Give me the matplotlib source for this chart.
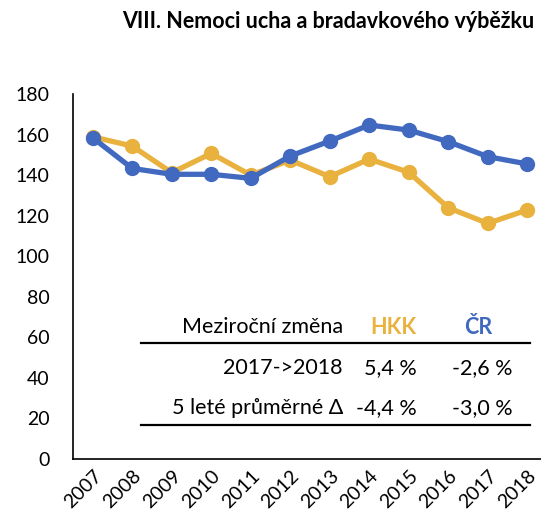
import numpy as np
import matplotlib
matplotlib.use('Agg')
import matplotlib.pyplot as plt

plt.rcParams['font.family'] = ['Lato', 'DejaVu Sans']

# Data
years = ['2007', '2008', '2009', '2010', '2011', '2012',
         '2013', '2014', '2015', '2016', '2017', '2018']
hkk = [158.9, 154.3, 141.2, 150.7, 140.0, 147.4, 139.2, 147.9, 141.4, 123.9, 116.2, 122.8]
cr = [158.4, 143.3, 140.4, 140.4, 138.4, 149.4, 156.8, 164.7, 162.2, 156.5, 149.1, 145.5]

title = 'VIII. Nemoci ucha a bradavkového výběžku'
table_header = ['Meziroční změna', 'HKK', 'ČR']
row_labels = ['2017->2018', '5 leté průměrné Δ']
hkk_change = ['5,4 %', '-4,4 %']
cr_change = ['-2,6 %', '-3,0 %']

yellow = '#E9B13E'
blue = '#4169C0'

W, H = 541, 525
fig = plt.figure(figsize=(W / 100, H / 100), dpi=100)


def px(x, y):
    # pixel position (from top-left) -> figure fraction
    return x / W, 1 - y / H


ax = fig.add_axes([73 / W, 1 - 459 / H, (547 - 73) / W, (459 - 94) / H])
x = np.arange(len(years))
ax.plot(x, hkk, color=yellow, lw=3.8, marker='o', ms=10, zorder=2)
ax.plot(x, cr, color=blue, lw=3.8, marker='o', ms=10, zorder=3)

ax.set_xlim(-0.5, len(years) - 0.5)
ax.set_ylim(0, 180)
ax.set_yticks(range(0, 181, 20))
ax.set_xticks(x)
ax.set_xticklabels(years, rotation=45, ha='right', rotation_mode='anchor')
ax.tick_params(axis='both', length=0, labelsize=14)
ax.tick_params(axis='y', pad=17)
ax.tick_params(axis='x', pad=6)
for s in ['top', 'right']:
    ax.spines[s].set_visible(False)
for s in ['left', 'bottom']:
    ax.spines[s].set_linewidth(1.2)

fig.text(*px(328, 22), title, ha='center', va='center', fontsize=15.5, fontweight='bold')

# table
fs = 15.5
fig.text(*px(343, 327), table_header[0], ha='right', va='center', fontsize=fs)
fig.text(*px(393, 327), table_header[1], ha='center', va='center', fontsize=fs,
         fontweight='bold', color=yellow)
fig.text(*px(478, 327), table_header[2], ha='center', va='center', fontsize=fs,
         fontweight='bold', color=blue)
row_y = [368, 408]
for i, lab in enumerate(row_labels):
    fig.text(*px(343, row_y[i]), lab, ha='right', va='center', fontsize=fs)
    fig.text(*px(417, row_y[i]), hkk_change[i], ha='right', va='center', fontsize=fs)
    fig.text(*px(513, row_y[i]), cr_change[i], ha='right', va='center', fontsize=fs)
for yy in [343, 425]:
    x0, y0 = px(141, yy)
    x1, _ = px(530, yy)
    fig.add_artist(plt.Line2D([x0, x1], [y0, y0], color='black', lw=1.6))

fig.savefig('out.png', dpi=100)
